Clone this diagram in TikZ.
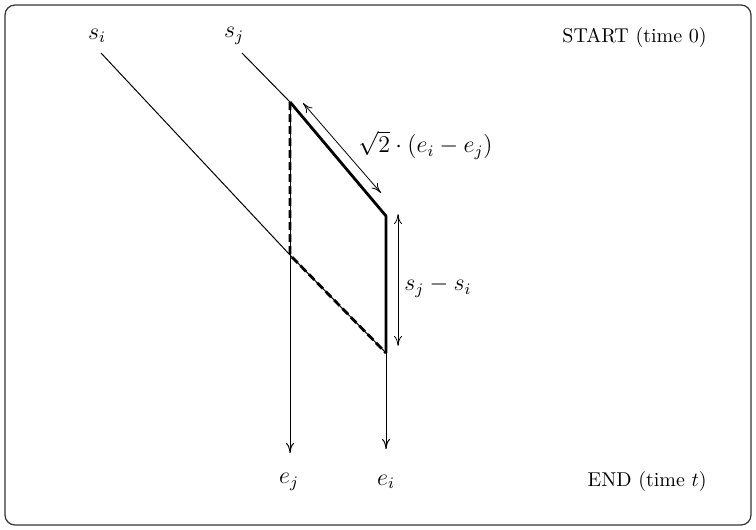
\documentclass[tikz,border=0pt]{standalone}
\usetikzlibrary{positioning,arrows.meta}

\begin{document}
\begin{tikzpicture}[
    x=0.5pt, y=-0.5pt,
    >={To[length=5pt, width=4pt]},
    lab/.style={inner sep=1.5pt, font=\large},
    linea/.style={black, line width=0.5pt},
    spessa/.style={black, line width=1.4pt, line join=round},
    tratt/.style={black, line width=1.4pt, dash pattern=on 4pt off 2pt},
    misura/.style={black, line width=0.4pt, <->},
  ]

  \useasboundingbox (0,0) rectangle (756,530);
  \draw[black!80, line width=0.6pt, rounded corners=5pt] (5,5) rectangle (751,525);

  % ---- vertici --------------------------------------------------------------
  \coordinate (si) at (101,53);
  \coordinate (sj) at (242,53);
  \coordinate (A)  at (290,102);   % inizio di j sulla verticale
  \coordinate (B)  at (386,216);
  \coordinate (C)  at (386,353);
  \coordinate (X)  at (290,255);   % incrocio con la retta di i
  \coordinate (ej) at (290,453);
  \coordinate (ei) at (386,449);

  % ---- rette dei due lavori -------------------------------------------------
  \draw[linea] (si) -- (X) -- (C);
  \draw[linea] (sj) -- (A);
  \draw[linea, ->] (A) -- (ej);
  \draw[linea, ->] (C) -- (ei);

  % ---- il parallelogramma ---------------------------------------------------
  \draw[spessa] (A) -- (B) -- (C);
  \draw[tratt] (A) -- (X) -- (C);

  % ---- quote ----------------------------------------------------------------
  \coordinate (d1) at (303,103);
  \coordinate (d2) at (381,193);
  \coordinate (v1) at (398,214);
  \coordinate (v2) at (398,346);
  \draw[misura] (d1) -- (d2);
  \draw[misura] (v1) -- (v2);

  % ---- etichette ------------------------------------------------------------
  \node[lab] (lsi) at (97,36)  {$s_i$};
  \node[lab] (lsj) at (234,36) {$s_j$};
  \node[lab] (lej) at (289,482) {$e_j$};
  \node[lab] (lei) at (386,482) {$e_i$};
  \node[lab, anchor=west] (ld) at (355,145) {$\sqrt{2}\cdot(e_i-e_j)$};
  \node[lab, anchor=west] (lv) at (401,287) {$s_j-s_i$};

  \node[inner sep=1.5pt, anchor=east] (start) at (710,37)  {START (time 0)};
  \node[inner sep=1.5pt, anchor=east] (end)   at (710,481) {END (time $t$)};

\end{tikzpicture}
\end{document}
